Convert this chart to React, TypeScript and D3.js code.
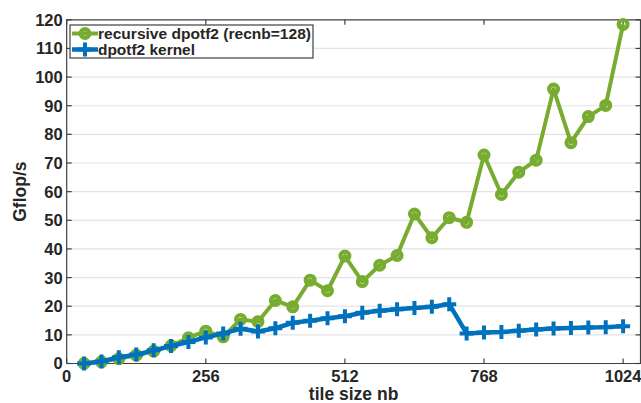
import * as d3 from "d3";
import { useEffect } from "react";

// tile sizes nb = 32, 64, ..., 1024
const tileSizes = [
  32, 64, 96, 128, 160, 192, 224, 256, 288, 320, 352, 384, 416, 448, 480, 512,
  544, 576, 608, 640, 672, 704, 736, 768, 800, 832, 864, 896, 928, 960, 992, 1024,
];
const recursiveGflops = [
  0, 0.6, 1.7, 2.9, 4.3, 6.2, 9.0, 11.3, 9.3, 15.4, 14.6, 22.0, 19.8, 29.1, 25.4, 37.5,
  28.6, 34.3, 37.7, 52.2, 43.9, 50.9, 49.3, 72.8, 59.0, 66.8, 71.0, 95.8, 77.1, 86.2, 90.1, 118.4,
];
const kernelGflops = [
  0, 0.7, 2.2, 3.1, 4.6, 6.1, 7.5, 9.1, 10.5, 12.1, 11.2, 12.3, 14.2, 14.9, 15.8, 16.5,
  17.7, 18.4, 18.9, 19.4, 19.8, 20.7, 10.5, 10.8, 11.0, 11.4, 11.9, 12.2, 12.4, 12.6, 12.7, 13.0,
];
const xTicks = [0, 256, 512, 768, 1024];
const yTicks = [0, 10, 20, 30, 40, 50, 60, 70, 80, 90, 100, 110, 120];
const seriesNames = ["recursive dpotf2 (recnb=128)", "dpotf2 kernel"];

const width = 641;
const height = 403;
const marginLeft = 66.7;
const marginRight = 0.5;
const marginTop = 19.8;
const marginBottom = 39.5;

const green = "#77AC30";
const blue = "#0072BD";
const axisColor = "#404040";
const font = "'Liberation Sans', Arial, Helvetica, sans-serif";

export default function App() {
  useEffect(() => {
    document.body.style.margin = "0";
  }, []);

  const x = d3.scaleLinear().domain([0, 1056]).range([marginLeft, width - marginRight]);
  const y = d3.scaleLinear().domain([0, 120]).range([height - marginBottom, marginTop]);

  const line = d3
    .line<number>()
    .x((_, i) => x(tileSizes[i]))
    .y((d) => y(d));

  const x0 = x.range()[0];
  const x1 = x.range()[1];
  const y0 = y.range()[0];
  const y1 = y.range()[1];
  const cx = (x0 + x1) / 2;
  const cy = (y0 + y1) / 2;

  const plus = (px: number, py: number, s: number) =>
    `M${px - s},${py}H${px + s}M${px},${py - s}V${py + s}`;

  return (
    <svg width={width} height={height} style={{ display: "block" }} fontFamily={font}>
      <rect width={width} height={height} fill="white" />
      {/* grid */}
      {yTicks.slice(1, -1).map((t) => (
        <line key={t} x1={x0} x2={x1} y1={y(t)} y2={y(t)} stroke="#e3e3e3" strokeWidth={1.2} />
      ))}
      {/* axes box */}
      <path
        d={`M${x0},${y1}H${x1}V${y0}H${x0}Z`}
        fill="none"
        stroke={axisColor}
        strokeWidth={1.2}
      />
      {/* ticks */}
      {yTicks.map((t) => (
        <g key={t}>
          <line x1={x0} x2={x0 + 5} y1={y(t)} y2={y(t)} stroke={axisColor} strokeWidth={1.2} />
          <line x1={x1 - 5} x2={x1} y1={y(t)} y2={y(t)} stroke={axisColor} strokeWidth={1.2} />
          <text
            x={x0 - 4}
            y={y(t)}
            dy="0.36em"
            textAnchor="end"
            fontSize={16.5}
            fontWeight="bold"
            fill="#262626"
          >
            {t}
          </text>
        </g>
      ))}
      {xTicks.map((t) => (
        <g key={t}>
          <line x1={x(t)} x2={x(t)} y1={y0} y2={y0 - 5} stroke={axisColor} strokeWidth={1.2} />
          <line x1={x(t)} x2={x(t)} y1={y1} y2={y1 + 5} stroke={axisColor} strokeWidth={1.2} />
          <text
            x={x(t)}
            y={y0 + 18}
            textAnchor="middle"
            fontSize={16.5}
            fontWeight="bold"
            fill="#262626"
          >
            {t}
          </text>
        </g>
      ))}
      <text
        x={cx}
        y={height - 3.5}
        textAnchor="middle"
        fontSize={17.5}
        fontWeight="bold"
        fill="#262626"
      >
        tile size nb
      </text>
      <text
        transform={`translate(26,${cy}) rotate(-90)`}
        textAnchor="middle"
        fontSize={17.5}
        fontWeight="bold"
        fill="#262626"
      >
        Gflop/s
      </text>

      {/* recursive dpotf2 */}
      <path d={line(recursiveGflops) ?? ""} fill="none" stroke={green} strokeWidth={4} strokeLinejoin="round" />
      {recursiveGflops.map((v, i) => (
        <circle key={i} cx={x(tileSizes[i])} cy={y(v)} r={4.4} fill="none" stroke={green} strokeWidth={4.2} />
      ))}

      {/* dpotf2 kernel */}
      <path d={line(kernelGflops) ?? ""} fill="none" stroke={blue} strokeWidth={4.5} strokeLinejoin="round" />
      {kernelGflops.map((v, i) => (
        <path key={i} d={plus(x(tileSizes[i]), y(v), 7)} stroke={blue} strokeWidth={4} />
      ))}

      {/* legend */}
      <g>
        <rect x={70} y={25} width={243} height={33} fill="white" stroke={axisColor} strokeWidth={1.2} />
        <line x1={72} x2={98} y1={33.5} y2={33.5} stroke={green} strokeWidth={4} />
        <circle cx={85} cy={33.5} r={4.4} fill="none" stroke={green} strokeWidth={4.2} />
        <text
          x={98}
          y={33.5}
          dy="0.36em"
          fontSize={14.5}
          fontWeight="bold"
          fill="#262626"
          textLength={213}
          lengthAdjust="spacingAndGlyphs"
        >
          {seriesNames[0]}
        </text>
        <line x1={72} x2={98} y1={49.5} y2={49.5} stroke={blue} strokeWidth={4.5} />
        <path d={plus(85, 49.5, 7)} stroke={blue} strokeWidth={4} />
        <text
          x={98}
          y={49.5}
          dy="0.36em"
          fontSize={14.5}
          fontWeight="bold"
          fill="#262626"
          textLength={97}
          lengthAdjust="spacingAndGlyphs"
        >
          {seriesNames[1]}
        </text>
      </g>
    </svg>
  );
}
